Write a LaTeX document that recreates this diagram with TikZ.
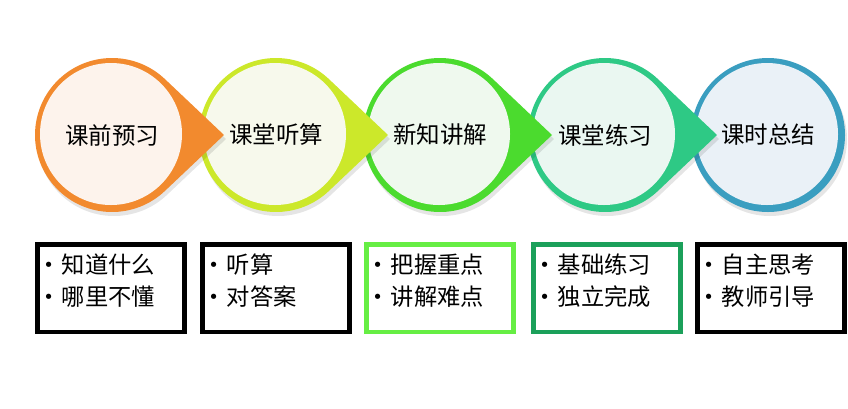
\documentclass[tikz,border=0pt]{standalone}
\usepackage{fontspec}
\newfontfamily\cjk{Noto Sans CJK SC}
\newfontfamily\sym{DejaVu Sans}
\definecolor{ringA}{HTML}{F28A2E}\definecolor{fillA}{HTML}{FDF3EC}
\definecolor{ringB}{HTML}{CCE82A}\definecolor{fillB}{HTML}{F7F9EC}
\definecolor{ringC}{HTML}{4BDB2E}\definecolor{fillC}{HTML}{EFF9EE}
\definecolor{ringD}{HTML}{2EC985}\definecolor{fillD}{HTML}{EAF7F1}
\definecolor{ringE}{HTML}{3A9EC0}\definecolor{fillE}{HTML}{EAF1F7}
\definecolor{boxC}{HTML}{66EE44}\definecolor{boxD}{HTML}{1BA05A}
\tikzset{
  steplabel/.style={font=\cjk\fontsize{23.5}{30}\selectfont, inner sep=0pt},
  itembox/.style={draw=#1, line width=4.5pt, minimum width=147pt, minimum height=87.5pt, inner sep=0pt},
  itemtext/.style={font=\cjk\fontsize{23.3}{32}\selectfont, align=left, anchor=north west, inner sep=0pt}
}
\newcommand{\itm}{\makebox[21.5pt][l]{\hspace{3pt}\raisebox{2pt}{\sym\fontsize{18}{18}\selectfont •}}}
\begin{document}
\begin{tikzpicture}[x=1pt,y=-1pt]
  \useasboundingbox (0,0) rectangle (848,408);
  % Drop shapes, drawn right to left so each tip lies over the next circle
  \fill[black, opacity=0.10] (770,139) circle (77); % shadow of last circle
  \fill[ringE] (768,135) circle (77); % last step has no tip
  \fill[fillE] (767,134) circle (71);
  \foreach \i/\cx/\ring/\inner in {4/605/ringD/fillD,3/440/ringC/fillC,2/276/ringB/fillB,1/112/ringA/fillA} {
    \fill[black, opacity=0.10] (\cx+2,139) ++(46:77) arc[start angle=46, end angle=314, radius=77] -- (\cx+114,139) -- cycle; % soft shadow
    \fill[\ring] (\cx,135) ++(46:77) arc[start angle=46, end angle=314, radius=77] -- (\cx+112,135) -- cycle; % ring with tip
    \fill[\inner] (\cx-1,134) circle (71); % light face
  }
  % Step names
  \node[steplabel] (s1) at (112,135) {课前预习};
  \node[steplabel] (s2) at (276,135) {课堂听算};
  \node[steplabel] (s3) at (440,135) {新知讲解};
  \node[steplabel] (s4) at (605,135) {课堂练习};
  \node[steplabel] (s5) at (768,135) {课时总结};
  % Boxes under the steps
  \node[itembox=black] (b1) at (111,288) {};
  \node[itembox=black] (b2) at (276,288) {};
  \node[itembox=boxC] (b3) at (440,288) {};
  \node[itembox=boxD] (b4) at (607,288) {};
  \node[itembox=black] (b5) at (771,288) {};
  \foreach \b/\lineA/\lineB in {b1/知道什么/哪里不懂,b2/听算/对答案,b3/把握重点/讲解难点,b4/基础练习/独立完成,b5/自主思考/教师引导} {
    \node[itemtext] (\b t) at ([xshift=5pt,yshift=-12pt]\b.north west) {\itm\lineA\\\itm\lineB}; % two bullet lines
  }
\end{tikzpicture}
\end{document}
